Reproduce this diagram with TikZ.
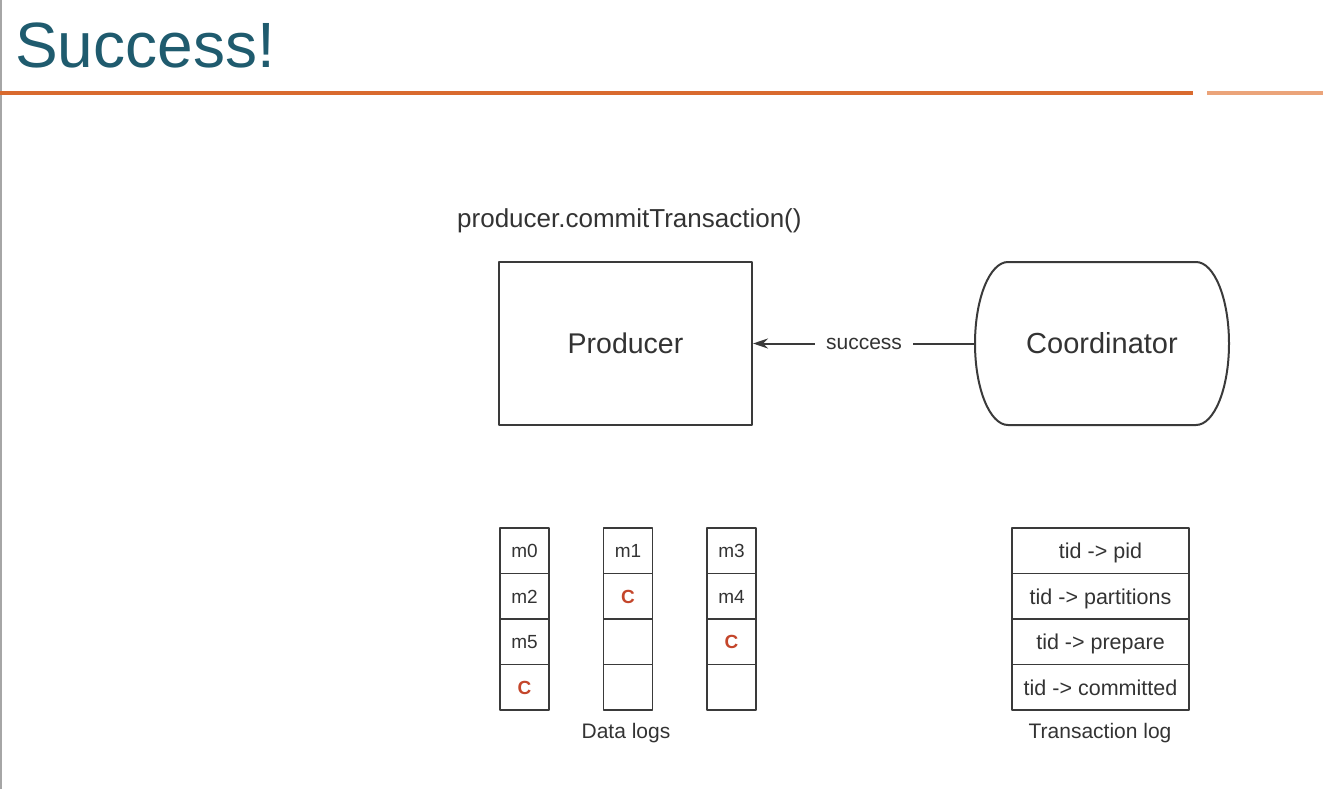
\documentclass[tikz,border=0pt]{standalone}
\usepackage{fontspec}
\setmainfont{Liberation Sans}
\usetikzlibrary{arrows.meta}
\definecolor{titleteal}{HTML}{1F5B6E}
\definecolor{ruleorange}{HTML}{D96A2E}
\definecolor{rulelight}{HTML}{EBA47A}
\definecolor{commitred}{HTML}{C4462B}
\definecolor{linegray}{HTML}{3A3A3A}
\definecolor{textgray}{HTML}{333333}
\newcommand{\commitmark}{\textcolor{commitred}{\textbf{C}}}

\begin{document}
\begin{tikzpicture}[x=1pt, y=-1pt, line join=round, >=Stealth,
    bigbox/.style={draw=linegray, line width=2pt, minimum width=253pt, minimum height=163pt,
      text=textgray, font=\fontsize{28.5}{31}\selectfont},
    cell/.style={draw=linegray, line width=1.9pt, minimum width=49pt, minimum height=45.5pt,
      inner sep=0pt, text height=13.7pt, text depth=0pt, text=textgray, font=\fontsize{19}{21}\selectfont},
    tidcell/.style={cell, minimum width=177pt, text height=15.5pt, font=\fontsize{21.5}{23}\selectfont},
    caption/.style={text=textgray, font=\fontsize{21}{24}\selectfont}]
  \useasboundingbox (0,0) rectangle (1323,789);
  % header
  \draw[gray!70, line width=2pt] (1,0) -- (1,789);
  \node[anchor=base west, inner sep=0pt, text=titleteal, font=\fontsize{64}{70}\selectfont] (title) at (15,68) {Success!};
  \draw[ruleorange, line width=4pt] (0,93) -- (1193,93);
  \draw[rulelight, line width=4pt] (1207,93) -- (1323,93);
  % producer and coordinator
  \node[anchor=west, inner sep=0pt, text=textgray, font=\fontsize{26}{28}\selectfont] (call) at (457,221) {producer.commitTransaction()};
  \node[bigbox] (prod) at (625.5,343.5) {Producer};
  \node[bigbox, draw=none, outer sep=0pt, minimum width=254pt, font=\fontsize{29}{31}\selectfont] (coord) at (1102,343.5) {Coordinator};
  \draw[linegray, line width=2pt] ([xshift=-33pt]coord.north east)
    arc[start angle=90, end angle=-90, x radius=33pt, y radius=81.5pt]
    -- ([xshift=33pt]coord.south west)
    arc[start angle=270, end angle=90, x radius=33pt, y radius=81.5pt] -- cycle;
  \draw[->, linegray, line width=2pt, arrows={-Stealth[length=15pt, width=10pt]}] (coord.west) -- node[fill=white, inner xsep=11pt, text=textgray,
    font=\fontsize{21}{24}\selectfont] (succ) {success} (prod.east);
  % data logs
  \foreach \x/\ta/\tb/\tc/\td [count=\c] in {524.5/m0/m2/m5/\commitmark, 628/m1/\commitmark/{}/{}, 731.5/m3/m4/\commitmark/{}} {
    \node[cell] (d\c a) at (\x,550.75) {\ta};
    \node[cell] (d\c b) at (\x,596.25) {\tb};
    \node[cell] (d\c c) at (\x,641.75) {\tc};
    \node[cell] (d\c d) at (\x,687.25) {\td};
  }
  \node[caption] (datalbl) at (626,733) {Data logs};
  % transaction log
  \foreach \t [count=\r] in {tid -> pid, tid -> partitions, tid -> prepare, tid -> committed}
    \node[tidcell] (t\r) at (1100.5,505.25+45.5*\r) {\t};
  \node[caption] (tlbl) at (1100,733) {Transaction log};
\end{tikzpicture}
\end{document}
